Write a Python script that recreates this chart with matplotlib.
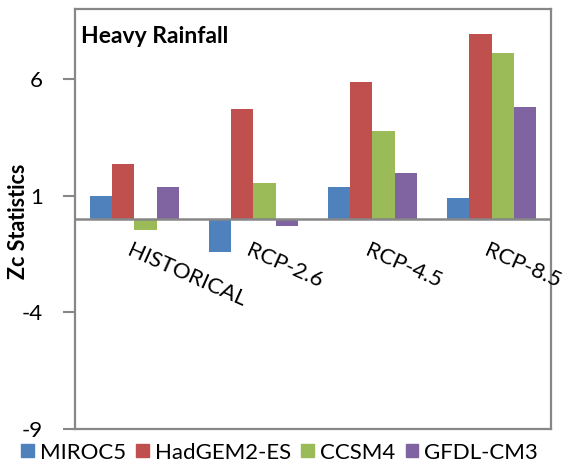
import numpy as np
import matplotlib.pyplot as plt
from matplotlib.patches import Patch

plt.rcParams['font.family'] = ['Lato', 'DejaVu Sans']
plt.rcParams['axes.unicode_minus'] = False

scenarios = ["HISTORICAL", "RCP-2.6", "RCP-4.5", "RCP-8.5"]
models = ["MIROC5", "HadGEM2-ES", "CCSM4", "GFDL-CM3"]
miroc5 = [0.98, -1.43, 1.36, 0.89]
hadgem = [2.35, 4.73, 5.89, 7.95]
ccsm4 = [-0.49, 1.53, 3.77, 7.13]
gfdl = [1.36, -0.31, 1.96, 4.80]
yticks = [-9, -4, 1, 6]

colors = ['#4F81BD', '#C0504D', '#9BBB59', '#8064A2']
grey = '#878787'

fig = plt.figure(figsize=(5.66, 4.65), dpi=100)
ax = fig.add_axes([0.1325, 0.0774, 0.841, 0.9032])

x = np.arange(len(scenarios))
w = 0.185
for k, (vals, c) in enumerate(zip([miroc5, hadgem, ccsm4, gfdl], colors)):
    ax.bar(x + (k - 1.5) * w, vals, w, color=c, zorder=2)

ax.set_xlim(-0.5, len(scenarios) - 0.5)
ax.set_ylim(-9, 9)
ax.set_yticks(yticks)
ax.set_xticks([])
ax.tick_params(axis='y', length=9, width=1.5, color=grey, pad=14, labelsize=16)
for s in ax.spines.values():
    s.set_color(grey)
    s.set_linewidth(1.6)
ax.axhline(0, color=grey, lw=1.8, zorder=3)

# category labels hang from the zero line
for i, lab in enumerate(scenarios):
    ax.text(i - 0.02, -0.9, lab, rotation=-24, rotation_mode='anchor',
            ha='left', va='top', fontsize=16)

ax.text(0.012, 0.96, "Heavy Rainfall", transform=ax.transAxes,
        fontsize=16.5, fontweight='bold', va='top', ha='left')
fig.text(0.033, 0.525, "Zc Statistics", rotation=90, fontsize=15.5,
         fontweight='bold', ha='center', va='center')

handles = [Patch(color=c, label=m) for c, m in zip(colors, models)]
fig.legend(handles=handles, loc='lower left', bbox_to_anchor=(0.022, -0.014),
           ncol=4, frameon=False, fontsize=16, handlelength=0.55,
           handleheight=0.55, handletextpad=0.3, columnspacing=0.45,
           borderaxespad=0)

fig.savefig("out.png", dpi=100)
